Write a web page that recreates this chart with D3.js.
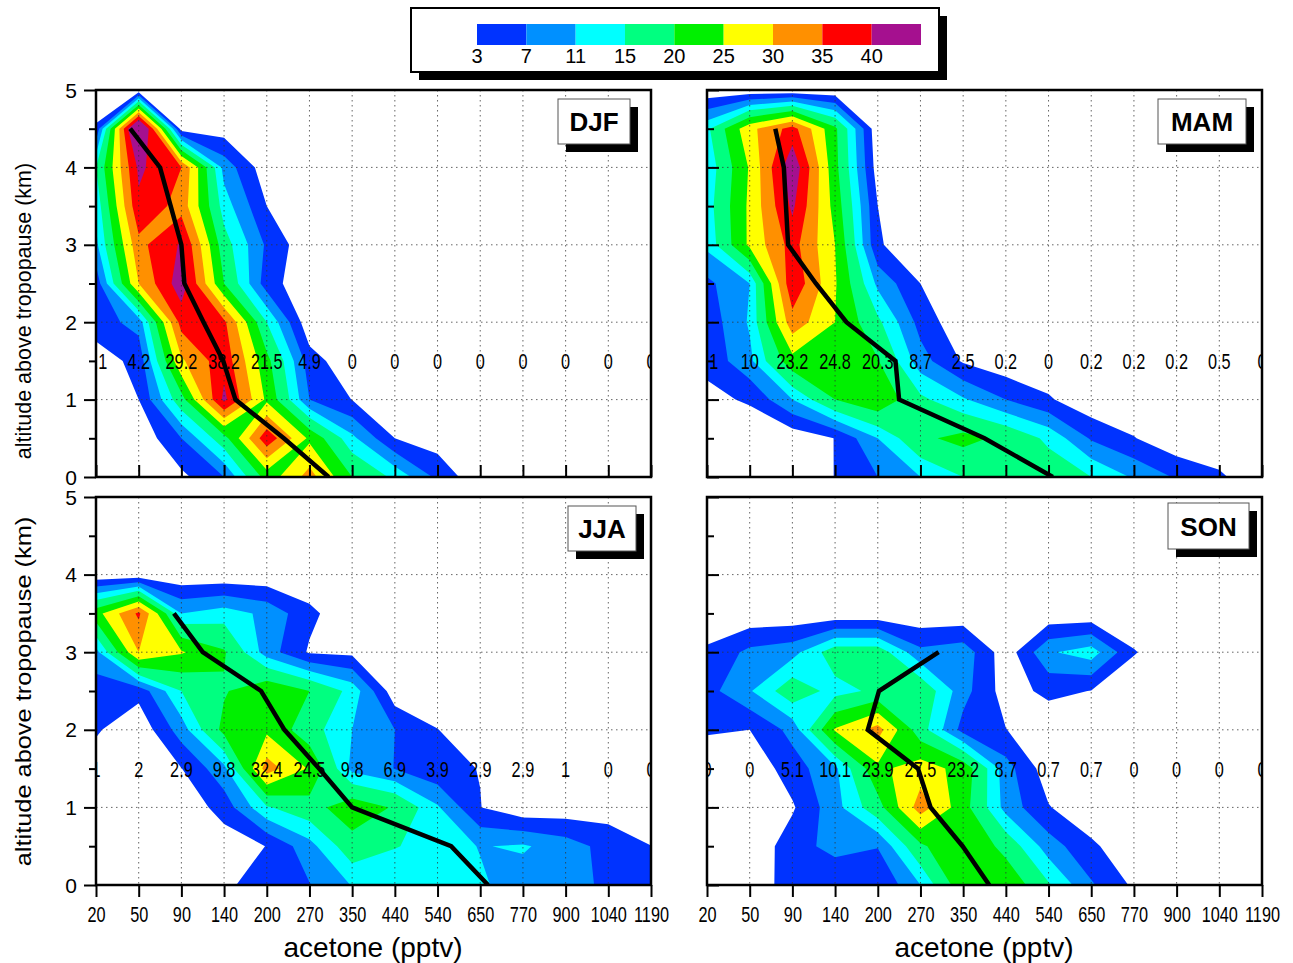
<!DOCTYPE html>
<html>
<head>
<meta charset="utf-8">
<style>
  html, body { margin: 0; padding: 0; background: #fff; }
  text { font-family: "Liberation Sans", Arial, sans-serif; fill: #000; }
</style>
</head>
<body>
<script src="https://cdnjs.cloudflare.com/ajax/libs/d3/7.8.5/d3.min.js"></script>
<svg id="chart" width="1293" height="963"></svg>
<script>

const acetoneBins = [20, 50, 90, 140, 200, 270, 350, 440, 540, 650, 770, 900, 1040, 1190];
const altitudes = [0, 0.5, 1, 1.5, 2, 2.5, 3, 3.5, 4, 4.5, 5];
const thresholds = [3, 7, 11, 15, 20, 25, 30, 35, 40];
const colors = ['#0033ff', '#0090ff', '#00ffff', '#00ff80', '#00f000', '#ffff00', '#ff9000', '#ff0000', '#a5108f'];

// frequency (%) per altitude row (0 km first) and acetone bin
const djfGrid = [
  [0, 0, 2, 7, 22, 32, 20, 14, 6, 0, 0, 0, 0, 0],
  [0, 0, 7, 18, 38.5, 24, 12, 3, 1, 0, 0, 0, 0, 0],
  [0, 3, 18, 41.2, 24, 7, 2.9, 0, 0, 0, 0, 0, 0, 0],
  [1, 4.2, 29.2, 38.2, 21.5, 4.9, 0, 0, 0, 0, 0, 0, 0, 0],
  [5, 8.5, 37, 36, 15, 0, 0, 0, 0, 0, 0, 0, 0, 0],
  [4.5, 30, 43, 20, 4.8, 0, 0, 0, 0, 0, 0, 0, 0, 0],
  [10, 33.5, 40.6, 17, 6.3, 0, 0, 0, 0, 0, 0, 0, 0, 0],
  [12, 39, 33, 13, 3, 0, 0, 0, 0, 0, 0, 0, 0, 0],
  [15, 41, 35, 9.5, 0.5, 0, 0, 0, 0, 0, 0, 0, 0, 0],
  [3.5, 52, 1, 1, 0, 0, 0, 0, 0, 0, 0, 0, 0, 0],
  [0, 0, 0, 0, 0, 0, 0, 0, 0, 0, 0, 0, 0, 0]
];
const mamGrid = [
  [0, 0, 0, 3.1, 7, 11, 15, 17, 18, 15, 10.5, 6.5, 3.7, 0],
  [0, 0, 0.3, 3.1, 11, 19, 21.5, 18.8, 14, 6.5, 3.2, 0, 0, 0],
  [1.9, 3.55, 11, 20, 24, 16, 11.5, 7, 3.5, 0, 0, 0, 0, 0],
  [4.1, 10, 23.2, 24.8, 20.3, 8.7, 2.5, 0.2, 0, 0.2, 0.2, 0.2, 0.5, 0],
  [4.5, 11.5, 33, 25, 16, 5.5, 0, 0, 0, 0, 0, 0, 0, 0],
  [6, 11, 39, 25.5, 10, 3, 0, 0, 0, 0, 0, 0, 0, 0],
  [12, 26, 37, 25, 3.5, 0, 0, 0, 0, 0, 0, 0, 0, 0],
  [13, 26, 41, 23, 3, 0, 0, 0, 0, 0, 0, 0, 0, 0],
  [12, 25.5, 44, 21.5, 1, 0, 0, 0, 0, 0, 0, 0, 0, 0],
  [14, 28.5, 37, 21, 0, 0, 0, 0, 0, 0, 0, 0, 0, 0],
  [0, 0, 0, 0, 0, 0, 0, 0, 0, 0, 0, 0, 0, 0]
];
const jjaGrid = [
  [0, 0, 0, 1.8, 6, 6.8, 11.2, 10.9, 12, 11.6, 9, 8, 6.5, 4.5],
  [0, 0, 0, 0.7, 3.1, 9.5, 18, 15.3, 13, 10.8, 11.5, 9, 5.5, 3.05],
  [0, 0, 0, 4.7, 14.5, 18, 23, 19.5, 11.5, 3.1, 0, 0.5, 1.1, 0],
  [1, 2, 2.9, 9.8, 32.4, 24.5, 9.8, 6.9, 3.9, 2.9, 2.9, 1, 0, 0],
  [3.5, 0, 9, 21.5, 24, 17, 11, 7, 3.1, 0, 0, 0, 0, 0],
  [5, 4.4, 15, 19.5, 24, 20, 13.5, 0.5, 0, 0, 0, 0, 0, 0],
  [9.5, 30, 25.5, 20.5, 9, 2.5, 2, 0, 0, 0, 0, 0, 0, 0],
  [23, 36, 11, 13, 10, 4, 0, 0, 0, 0, 0, 0, 0, 0],
  [0, 0, 0, 0, 0, 0, 0, 0, 0, 0, 0, 0, 0, 0],
  [0, 0, 0, 0, 0, 0, 0, 0, 0, 0, 0, 0, 0, 0],
  [0, 0, 0, 0, 0, 0, 0, 0, 0, 0, 0, 0, 0, 0]
];
const sonGrid = [
  [0, 0, 5.2, 3.2, 3.2, 11, 23.5, 24, 15.5, 7.5, 2.3, 0, 0, 0],
  [0, 0, 5.1, 8.5, 7.2, 19, 25.2, 18.2, 9, 3.8, 0, 0, 0, 0],
  [0, 0, 2.5, 9.5, 18, 32.5, 22, 9.5, 3.25, 0, 0, 0, 0, 0],
  [0, 0, 5.1, 10.1, 23.9, 27.5, 23.2, 8.7, 0.7, 0.7, 0, 0, 0, 0],
  [3.5, 3, 8.3, 25.5, 32, 17, 5.5, 3.1, 0, 0, 0, 0, 0, 0],
  [5.5, 10.6, 18, 13.4, 16, 18.7, 8.5, 1.2, 4, 2.9, 0, 0, 0, 0],
  [3.7, 8, 9.5, 17.6, 17.6, 8, 9.4, 0.6, 10.5, 13, 3.3, 0, 0, 0],
  [0, 0, 0, 0, 0, 0, 0, 0, 0, 0, 0, 0, 0, 0],
  [0, 0, 0, 0, 0, 0, 0, 0, 0, 0, 0, 0, 0, 0],
  [0, 0, 0, 0, 0, 0, 0, 0, 0, 0, 0, 0, 0, 0],
  [0, 0, 0, 0, 0, 0, 0, 0, 0, 0, 0, 0, 0, 0]
];

// printed numbers in the 1.5 km row
const djfLabels = ['1.1', '4.2', '29.2', '38.2', '21.5', '4.9', '0', '0', '0', '0', '0', '0', '0', '0'];
const mamLabels = ['4.1', '10', '23.2', '24.8', '20.3', '8.7', '2.5', '0.2', '0', '0.2', '0.2', '0.2', '0.5', '0'];
const jjaLabels = ['1', '2', '2.9', '9.8', '32.4', '24.5', '9.8', '6.9', '3.9', '2.9', '2.9', '1', '0', '0'];
const sonLabels = ['0', '0', '5.1', '10.1', '23.9', '27.5', '23.2', '8.7', '0.7', '0.7', '0', '0', '0', '0'];

// median acetone (pptv) at each altitude
const djfLineAlt = [4.5, 4, 3.5, 3, 2.5, 2, 1.5, 1, 0.5, 0];
const djfLine = [44, 70, 80, 90, 93.5, 116, 139, 156, 228, 306];
const mamLineAlt = [4.5, 4, 3.5, 3, 2.5, 2, 1.5, 1, 0.5, 0];
const mamLine = [74, 82, 84, 86, 117.5, 156, 229, 235, 395, 551];
const jjaLineAlt = [3.5, 3, 2.5, 2, 1.5, 1, 0.5, 0];
const jjaLine = [83, 115, 192, 229, 288, 350, 575, 672];
const sonLineAlt = [3, 2.5, 2, 1.5, 1, 0.5, 0];
const sonLine = [304, 202, 186, 266, 289, 349, 405];

const panels = [
  { name: 'DJF', grid: djfGrid, labels: djfLabels, lineAlt: djfLineAlt, line: djfLine, left: 96, top: 90, bottom: 477, inside: true, yLabels: true, box: [558, 99, 72, 45], titleY: 311, titleStretch: 1 },
  { name: 'MAM', grid: mamGrid, labels: mamLabels, lineAlt: mamLineAlt, line: mamLine, left: 707, top: 90, bottom: 477, inside: true, yLabels: false, box: [1158, 99, 88, 45] },
  { name: 'JJA', grid: jjaGrid, labels: jjaLabels, lineAlt: jjaLineAlt, line: jjaLine, left: 96, top: 497, bottom: 885, inside: false, yLabels: true, box: [568, 506, 68, 45], titleY: 691.5, titleStretch: 1.18 },
  { name: 'SON', grid: sonGrid, labels: sonLabels, lineAlt: sonLineAlt, line: sonLine, left: 707, top: 497, bottom: 885, inside: false, yLabels: false, box: [1168, 503, 81, 46] }
];
const plotWidth = 555;
const squeeze = 0.74;

const svg = d3.select('#chart');

panels.forEach((p, k) => {
  const right = p.left + plotWidth;
  const xIndex = d3.scaleLinear().domain([0, acetoneBins.length - 1]).range([p.left, right]);
  const xPptv = d3.scaleLinear().domain(acetoneBins).range(acetoneBins.map((d, i) => xIndex(i)));
  const y = d3.scaleLinear().domain([0, 5]).range([p.bottom, p.top]);

  const g = svg.append('g');
  const clipId = 'clip' + k;
  svg.append('clipPath').attr('id', clipId).append('rect')
    .attr('x', p.left).attr('y', p.top).attr('width', plotWidth).attr('height', p.bottom - p.top);

  // pad one cell on every side so that the edges of the grid stay open
  const nx = acetoneBins.length + 2;
  const ny = altitudes.length + 2;
  const padded = [];
  for (let j = 0; j < ny; j++) {
    const row = p.grid[Math.max(0, Math.min(altitudes.length - 1, j - 1))];
    for (let i = 0; i < nx; i++) {
      padded.push(row[Math.max(0, Math.min(acetoneBins.length - 1, i - 1))]);
    }
  }
  const contours = d3.contours().size([nx, ny]).thresholds(thresholds)(padded);
  const path = d3.geoPath(d3.geoTransform({
    point(cx, cy) {
      this.stream.point(xIndex(cx - 1.5), y((cy - 1.5) * 0.5));
    }
  }));

  g.append('g').attr('clip-path', `url(#${clipId})`)
    .selectAll('path')
    .data(contours)
    .enter()
    .append('path')
    .attr('d', path)
    .attr('fill', (d, i) => colors[i]);

  // dotted grid
  const grid = g.append('g').attr('stroke', '#333').attr('stroke-width', 1).attr('stroke-dasharray', '1.5 3.5').attr('opacity', 0.75);
  grid.selectAll('.v').data(acetoneBins.slice(1, -1)).enter().append('line')
    .attr('x1', d => xPptv(d)).attr('x2', d => xPptv(d)).attr('y1', p.top).attr('y2', p.bottom);
  grid.selectAll('.h').data([1, 2, 3, 4]).enter().append('line')
    .attr('x1', p.left).attr('x2', right).attr('y1', d => y(d)).attr('y2', d => y(d));

  // numbers at 1.5 km
  const labels = g.append('g').attr('clip-path', `url(#${clipId})`);
  labels.selectAll('text')
    .data(p.labels)
    .enter()
    .append('text')
    .attr('transform', (d, i) => `translate(${xIndex(i)},${y(1.5) + 8}) scale(${squeeze},1)`)
    .attr('text-anchor', 'middle')
    .attr('font-size', 22)
    .text(d => d);

  // median line
  const line = d3.line()
    .x(d => xPptv(d[0]))
    .y(d => y(d[1]));
  g.append('path')
    .attr('clip-path', `url(#${clipId})`)
    .attr('d', line(d3.zip(p.line, p.lineAlt)))
    .attr('fill', 'none')
    .attr('stroke', '#000')
    .attr('stroke-width', 4.5);

  // axes
  const side = p.inside ? -1 : 1;
  const xAxis = g.append('g').attr('transform', `translate(0,${p.bottom})`)
    .call(d3.axisBottom(xPptv).tickValues(acetoneBins).tickFormat(d3.format('d')).tickSize(12 * side).tickSizeOuter(0));
  xAxis.select('.domain').remove();
  xAxis.selectAll('line').attr('stroke-width', 2);
  if (p.inside) {
    xAxis.selectAll('text').remove();
  } else {
    xAxis.selectAll('text')
      .attr('y', 0).attr('dy', 0)
      .attr('font-size', 22)
      .attr('transform', `translate(0,37) scale(${squeeze},1)`);
  }

  const ySide = p.yLabels ? 1 : -1;
  const yMinor = g.append('g').attr('transform', `translate(${p.left},0)`)
    .call(d3.axisLeft(y).tickValues(altitudes.filter(a => a % 1 !== 0)).tickFormat('').tickSize(7 * ySide).tickSizeOuter(0));
  yMinor.select('.domain').remove();
  yMinor.selectAll('line').attr('stroke-width', 2);
  const yMajor = g.append('g').attr('transform', `translate(${p.left},0)`)
    .call(d3.axisLeft(y).tickValues([0, 1, 2, 3, 4, 5]).tickFormat(d3.format('d')).tickSize(12 * ySide).tickSizeOuter(0));
  yMajor.select('.domain').remove();
  yMajor.selectAll('line').attr('stroke-width', 2);
  if (p.yLabels) {
    yMajor.selectAll('text').attr('font-size', 21).attr('x', -19).attr('dy', '0.34em');
  } else {
    yMajor.selectAll('text').remove();
  }

  // frame
  g.append('rect')
    .attr('x', p.left).attr('y', p.top).attr('width', plotWidth).attr('height', p.bottom - p.top)
    .attr('fill', 'none').attr('stroke', '#000').attr('stroke-width', 2.5);

  // season tag
  const [bx, by, bw, bh] = p.box;
  g.append('rect').attr('x', bx + 8).attr('y', by + 8).attr('width', bw).attr('height', bh).attr('fill', '#000');
  g.append('rect').attr('x', bx).attr('y', by).attr('width', bw).attr('height', bh)
    .attr('fill', '#fff').attr('stroke', '#555').attr('stroke-width', 1);
  g.append('text').attr('x', bx + bw / 2).attr('y', by + bh / 2 + 9.5)
    .attr('text-anchor', 'middle').attr('font-size', 26).attr('font-weight', 'bold').text(p.name);

  // axis titles
  if (!p.inside) {
    g.append('text').attr('x', p.left + plotWidth / 2 - 0.5).attr('y', 957)
      .attr('text-anchor', 'middle').attr('font-size', 28).text('acetone (pptv)');
  }
  if (p.yLabels) {
    g.append('text')
      .attr('transform', `translate(31,${p.titleY}) rotate(-90) scale(${p.titleStretch},1)`)
      .attr('text-anchor', 'middle').attr('font-size', 21.5).text('altitude above tropopause (km)');
  }
});

// colour key
const key = svg.append('g');
key.append('rect').attr('x', 419).attr('y', 16).attr('width', 528).attr('height', 64).attr('fill', '#000');
key.append('rect').attr('x', 411).attr('y', 8).attr('width', 528).attr('height', 64)
  .attr('fill', '#fff').attr('stroke', '#000').attr('stroke-width', 2);
const xKey = d3.scaleLinear().domain([0, thresholds.length]).range([477, 921]);
key.selectAll('.cell').data(colors).enter().append('rect')
  .attr('x', (d, i) => xKey(i)).attr('y', 24).attr('width', (d, i) => xKey(i + 1) - xKey(i)).attr('height', 21)
  .attr('fill', d => d);
key.selectAll('text').data(thresholds).enter().append('text')
  .attr('x', (d, i) => xKey(i)).attr('y', 63).attr('text-anchor', 'middle').attr('font-size', 20).text(d => d);

</script>
</body>
</html>
